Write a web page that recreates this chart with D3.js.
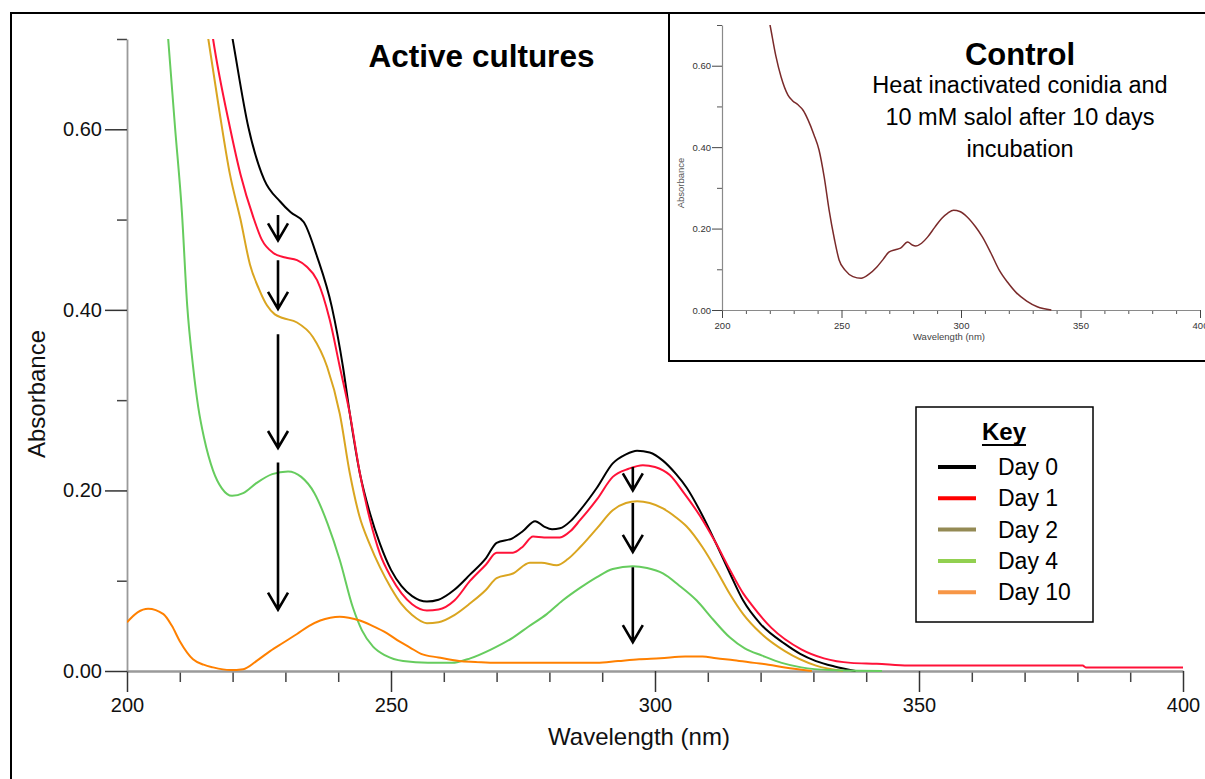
<!DOCTYPE html>
<html>
<head>
<meta charset="utf-8">
<script src="https://cdn.jsdelivr.net/npm/d3@7"></script>
<style>
  html, body { margin: 0; padding: 0; background: #fff; }
  svg { display: block; }
  text { font-family: "Liberation Sans", Arial, Helvetica, sans-serif; }
</style>
</head>
<body>
<svg id="chart" width="1205" height="779"></svg>
<script>
// ---------- DATA ----------
const seriesNames = ["Day 0", "Day 1", "Day 2", "Day 4", "Day 10"];
const curveColors = ["#000000", "#ff1238", "#daa520", "#66cc5e", "#ff8000"];
const legendColors = ["#000000", "#ff0000", "#948a54", "#92d050", "#f79646"];

const day0Wl  = [217, 220, 223, 226, 229, 231, 233.5, 236, 238.8, 240.9, 242.2, 244.1, 246, 247.9, 250, 252, 254, 256.8, 259, 262, 265, 268, 270, 273, 275, 277.3, 279, 280.5, 282, 284, 285.8, 289, 292, 294.5, 296.6, 299, 301.5, 304, 306, 309, 311.5, 314.2, 316.7, 320, 324.6, 327.5, 330.5, 334, 338];
const day0Abs = [0.80, 0.70, 0.602, 0.544, 0.520, 0.508, 0.497, 0.459, 0.403, 0.337, 0.285, 0.219, 0.175, 0.141, 0.112, 0.094, 0.083, 0.077, 0.079, 0.090, 0.107, 0.125, 0.142, 0.147, 0.155, 0.166, 0.160, 0.157, 0.158, 0.166, 0.178, 0.203, 0.230, 0.240, 0.244, 0.242, 0.233, 0.218, 0.203, 0.172, 0.142, 0.108, 0.078, 0.052, 0.030, 0.019, 0.011, 0.005, 0.0];

const day1Wl  = [214, 216.3, 219.5, 221.5, 223.9, 225.5, 227.7, 230, 232.2, 234, 236, 238.4, 240.3, 242.2, 244.1, 246, 247.9, 250, 252, 254, 256.8, 259, 262, 265, 268, 270, 273.1, 275, 276.9, 279, 282, 284, 285.8, 289, 292, 295, 297.7, 300, 302.8, 305.5, 308.5, 311.5, 314.2, 316.7, 318.2, 322, 327.7, 332, 337.1, 342, 348, 381, 381.6, 400];
const day1Abs = [0.80, 0.70, 0.602, 0.550, 0.503, 0.478, 0.463, 0.458, 0.455, 0.448, 0.433, 0.389, 0.337, 0.285, 0.219, 0.168, 0.130, 0.104, 0.086, 0.074, 0.067, 0.068, 0.078, 0.100, 0.118, 0.131, 0.131, 0.138, 0.149, 0.148, 0.148, 0.155, 0.167, 0.190, 0.215, 0.224, 0.228, 0.226, 0.217, 0.197, 0.172, 0.142, 0.112, 0.086, 0.074, 0.048, 0.024, 0.014, 0.009, 0.008, 0.006, 0.006, 0.004, 0.004];

const day2Wl  = [213, 215.4, 217.5, 219.5, 221.5, 223.3, 225, 226.5, 228, 229.5, 232.2, 235.2, 237.9, 240.3, 242.2, 244, 246, 247.9, 250, 252, 254, 256.8, 259, 262, 265, 268, 270, 273.1, 276.3, 278.5, 281.4, 283.5, 285.8, 289, 292, 294.5, 296.6, 299, 301.5, 304, 306, 309, 311.5, 314.2, 316.7, 320, 324.6, 330.5, 335.6];
const day2Abs = [0.80, 0.70, 0.62, 0.55, 0.50, 0.450, 0.423, 0.405, 0.395, 0.391, 0.386, 0.370, 0.337, 0.285, 0.219, 0.172, 0.140, 0.115, 0.092, 0.074, 0.062, 0.053, 0.054, 0.062, 0.075, 0.090, 0.103, 0.108, 0.120, 0.120, 0.117, 0.124, 0.137, 0.158, 0.178, 0.186, 0.188, 0.186, 0.180, 0.170, 0.160, 0.137, 0.113, 0.085, 0.063, 0.042, 0.022, 0.006, 0.0];

const day4Wl  = [206.5, 207.8, 209.1, 210.4, 211.4, 212.5, 213.5, 214.6, 216.3, 218, 219.9, 222, 224.5, 227.5, 230.5, 233, 235.5, 238, 240.3, 242.8, 244.5, 246.6, 249, 252.3, 257, 261.5, 265, 269, 273.1, 276, 279.5, 282.5, 285.8, 289, 292, 295.8, 298.5, 301.5, 304.5, 307.9, 311, 314.2, 317, 320.3, 324, 327.7, 333, 343];
const day4Abs = [0.80, 0.70, 0.602, 0.508, 0.405, 0.338, 0.292, 0.258, 0.222, 0.202, 0.194, 0.197, 0.208, 0.218, 0.221, 0.215, 0.197, 0.163, 0.123, 0.070, 0.045, 0.027, 0.017, 0.011, 0.009, 0.009, 0.014, 0.024, 0.037, 0.049, 0.063, 0.078, 0.092, 0.104, 0.113, 0.116, 0.114, 0.108, 0.095, 0.078, 0.057, 0.037, 0.025, 0.017, 0.009, 0.004, 0.001, 0.0];

const day10Wl  = [200, 202, 204, 206.9, 208.5, 210, 212.5, 214.5, 216.3, 219.5, 222, 224.5, 227.1, 229.5, 232.2, 234.5, 236.6, 238.5, 240.3, 242, 244.1, 246.5, 249.2, 251.5, 253.6, 255.7, 259, 262.9, 266, 270, 280, 289, 293, 297, 301, 305.7, 309, 311.6, 315, 318.8, 321.5, 324.6, 329.7];
const day10Abs = [0.054, 0.065, 0.069, 0.063, 0.050, 0.033, 0.013, 0.007, 0.004, 0.001, 0.002, 0.011, 0.022, 0.031, 0.041, 0.050, 0.056, 0.059, 0.060, 0.059, 0.056, 0.050, 0.042, 0.033, 0.026, 0.019, 0.015, 0.011, 0.010, 0.009, 0.009, 0.009, 0.011, 0.013, 0.014, 0.016, 0.016, 0.014, 0.012, 0.009, 0.007, 0.004, 0.0];

const controlWl  = [218, 220.1, 222.5, 224.7, 227.6, 229.5, 231.8, 234, 236, 238.5, 240.6, 242.8, 244.8, 247, 249, 251.5, 254.8, 258.2, 261.5, 264.7, 267.5, 269.8, 272.5, 274.7, 277.7, 279.5, 281, 283.5, 286, 289, 291.9, 294.5, 296.9, 299.5, 302.7, 306, 309, 312.5, 316, 319.5, 323.2, 327.5, 331.9, 337.8];
const controlAbs = [0.76, 0.70, 0.625, 0.573, 0.528, 0.514, 0.504, 0.490, 0.467, 0.430, 0.393, 0.325, 0.246, 0.175, 0.123, 0.098, 0.082, 0.078, 0.088, 0.105, 0.125, 0.142, 0.148, 0.152, 0.167, 0.160, 0.157, 0.164, 0.179, 0.203, 0.225, 0.238, 0.245, 0.242, 0.228, 0.205, 0.179, 0.140, 0.098, 0.068, 0.042, 0.022, 0.008, 0.0];

const xMajorTicks = [200, 250, 300, 350, 400];
const xMinorTicks = [210, 220, 230, 240, 260, 270, 280, 290, 310, 320, 330, 340, 360, 370, 380, 390];
const yMajorTicks = [0.0, 0.2, 0.4, 0.6];
const yMinorTicks = [0.1, 0.3, 0.5, 0.7];

// arrows: [wavelength, from absorbance, to absorbance]
const arrowWl   = [228.6, 228.6, 228.6, 228.6, 295.8, 295.8, 295.8];
const arrowFrom = [0.505, 0.455, 0.373, 0.231, 0.226, 0.186, 0.115];
const arrowTo   = [0.477, 0.401, 0.247, 0.068, 0.200, 0.132, 0.032];

const mainTitle = "Active cultures";
const xTitle = "Wavelength (nm)";
const yTitle = "Absorbance";
const insetTitle = "Control";
const insetSubtitle = ["Heat inactivated conidia and", "10 mM salol after 10 days", "incubation"];
const legendTitle = "Key";

// ---------- DRAW ----------
const svg = d3.select("#chart");
const FONT = '"Liberation Sans", Arial, Helvetica, sans-serif';

const series = [
  {wl: day0Wl, abs: day0Abs},
  {wl: day1Wl, abs: day1Abs},
  {wl: day2Wl, abs: day2Abs},
  {wl: day4Wl, abs: day4Abs},
  {wl: day10Wl, abs: day10Abs}
];

// outer frame of the main panel
svg.append("line").attr("x1", 10).attr("x2", 670).attr("y1", 13).attr("y2", 13)
  .attr("stroke", "#000").attr("stroke-width", 2);
svg.append("line").attr("x1", 11).attr("x2", 11).attr("y1", 12).attr("y2", 779)
  .attr("stroke", "#000").attr("stroke-width", 2);

const x = d3.scaleLinear().domain([200, 400]).range([127, 1183]);
const y = d3.scaleLinear().domain([0, 0.7]).range([671, 39]);

function styleAxis(g, tickColor, lineColor, lineWidth, fontSize, textColor) {
  g.select(".domain").attr("stroke", lineColor).attr("stroke-width", lineWidth);
  g.selectAll(".tick line").attr("stroke", tickColor).attr("stroke-width", 1.5);
  g.selectAll(".tick text").attr("fill", textColor).style("font-size", fontSize + "px").style("font-family", FONT);
}

// main axes
const gxMinor = svg.append("g").attr("transform", `translate(0,${y(0)})`)
  .call(d3.axisBottom(x).tickValues(xMinorTicks).tickSize(11).tickFormat(""));
gxMinor.select(".domain").remove();
gxMinor.selectAll(".tick line").attr("stroke", "#444").attr("stroke-width", 1.5);
const gyMinor = svg.append("g").attr("transform", `translate(${x(200)},0)`)
  .call(d3.axisLeft(y).tickValues(yMinorTicks).tickSize(10).tickFormat(""));
gyMinor.select(".domain").remove();
gyMinor.selectAll(".tick line").attr("stroke", "#444").attr("stroke-width", 1.5);

const gx = svg.append("g").attr("transform", `translate(0,${y(0)})`)
  .call(d3.axisBottom(x).tickValues(xMajorTicks).tickSize(21).tickPadding(6).tickSizeOuter(0).tickFormat(d3.format("d")));
styleAxis(gx, "#333", "#9a9a9a", 2.5, 20, "#111");
const gy = svg.append("g").attr("transform", `translate(${x(200)},0)`)
  .call(d3.axisLeft(y).tickValues(yMajorTicks).tickSize(22).tickPadding(3).tickSizeOuter(0).tickFormat(d3.format(".2f")));
styleAxis(gy, "#333", "#9a9a9a", 1.8, 20, "#111");

// curves
svg.append("clipPath").attr("id", "plotClip").append("rect")
  .attr("x", x(200)).attr("y", y(0.7)).attr("width", x(400) - x(200) + 2).attr("height", y(0) - y(0.7) + 2);
const line = d3.line().x(d => x(d[0])).y(d => y(d[1])).curve(d3.curveMonotoneX);
const plot = svg.append("g").attr("clip-path", "url(#plotClip)");
series.forEach((s, i) => {
  const pts = s.wl.map((w, k) => [w, s.abs[k]]);
  plot.append("path").datum(pts).attr("d", line)
    .attr("fill", "none").attr("stroke", curveColors[i]).attr("stroke-width", 2)
    .attr("stroke-linejoin", "round");
});

// arrows
arrowWl.forEach((w, i) => {
  const ax = x(w), y1 = y(arrowFrom[i]), y2 = y(arrowTo[i]);
  svg.append("path")
    .attr("d", `M${ax},${y1}L${ax},${y2}M${ax - 10},${y2 - 17}L${ax},${y2}L${ax + 10},${y2 - 17}`)
    .attr("fill", "none").attr("stroke", "#000").attr("stroke-width", 2.6)
    .attr("stroke-linejoin", "miter");
});

// titles
svg.append("text").attr("x", 481.5).attr("y", 67).attr("text-anchor", "middle")
  .style("font-size", "31.5px").style("font-weight", "bold").attr("fill", "#000").text(mainTitle);
svg.append("text").attr("x", 639).attr("y", 745).attr("text-anchor", "middle")
  .style("font-size", "24px").attr("fill", "#111").text(xTitle);
svg.append("text").attr("transform", "translate(45,394) rotate(-90)").attr("text-anchor", "middle")
  .style("font-size", "24px").attr("fill", "#111").text(yTitle);

// legend
const lg = svg.append("g");
lg.append("rect").attr("x", 916).attr("y", 407).attr("width", 177).attr("height", 215)
  .attr("fill", "#fff").attr("stroke", "#000").attr("stroke-width", 1.5);
const keyText = lg.append("text").attr("x", 1004).attr("y", 440).attr("text-anchor", "middle")
  .style("font-size", "24px").style("font-weight", "bold").attr("fill", "#000").text(legendTitle);
const kw = keyText.node().getComputedTextLength();
lg.append("line").attr("x1", 1004 - kw / 2).attr("x2", 1004 + kw / 2).attr("y1", 445).attr("y2", 445)
  .attr("stroke", "#000").attr("stroke-width", 2);
seriesNames.forEach((name, i) => {
  const by = 475 + i * 31.3;
  lg.append("line").attr("x1", 938).attr("x2", 976).attr("y1", by - 8).attr("y2", by - 8)
    .attr("stroke", legendColors[i]).attr("stroke-width", 4);
  lg.append("text").attr("x", 998).attr("y", by).style("font-size", "23px").attr("fill", "#000").text(name);
});

// ---------- INSET ----------
const ins = svg.append("g");
ins.append("rect").attr("x", 669).attr("y", 13).attr("width", 560).attr("height", 348)
  .attr("fill", "#fff").attr("stroke", "#000").attr("stroke-width", 2);

const xi = d3.scaleLinear().domain([200, 400]).range([722, 1200]);
const yi = d3.scaleLinear().domain([0, 0.7]).range([310, 25]);

const gxiMinor = ins.append("g").attr("transform", `translate(0,${yi(0)})`)
  .call(d3.axisBottom(xi).tickValues(xMinorTicks).tickSize(4).tickFormat(""));
gxiMinor.select(".domain").remove();
gxiMinor.selectAll(".tick line").attr("stroke", "#555").attr("stroke-width", 1);
const gyiMinor = ins.append("g").attr("transform", `translate(${xi(200)},0)`)
  .call(d3.axisLeft(yi).tickValues(yMinorTicks).tickSize(5).tickFormat(""));
gyiMinor.select(".domain").remove();
gyiMinor.selectAll(".tick line").attr("stroke", "#555").attr("stroke-width", 1);

const gxi = ins.append("g").attr("transform", `translate(0,${yi(0)})`)
  .call(d3.axisBottom(xi).tickValues(xMajorTicks).tickSize(8).tickPadding(4).tickSizeOuter(0).tickFormat(d3.format("d")));
styleAxis(gxi, "#444", "#8a8a8a", 1.2, 9.5, "#333");
gxi.selectAll(".tick line").attr("stroke-width", 1);
const gyi = ins.append("g").attr("transform", `translate(${xi(200)},0)`)
  .call(d3.axisLeft(yi).tickValues(yMajorTicks).tickSize(10).tickPadding(1).tickSizeOuter(0).tickFormat(d3.format(".2f")));
styleAxis(gyi, "#444", "#8a8a8a", 1.2, 9.5, "#333");
gyi.selectAll(".tick line").attr("stroke-width", 1);

ins.append("clipPath").attr("id", "insetClip").append("rect")
  .attr("x", xi(200)).attr("y", yi(0.7)).attr("width", xi(400) - xi(200)).attr("height", yi(0) - yi(0.7) + 1);
const lineI = d3.line().x(d => xi(d[0])).y(d => yi(d[1])).curve(d3.curveMonotoneX);
ins.append("g").attr("clip-path", "url(#insetClip)").append("path")
  .datum(controlWl.map((w, k) => [w, controlAbs[k]])).attr("d", lineI)
  .attr("fill", "none").attr("stroke", "#7a2a2a").attr("stroke-width", 1.5);

ins.append("text").attr("x", 949).attr("y", 340).attr("text-anchor", "middle")
  .style("font-size", "9.5px").attr("fill", "#444").text(xTitle);
ins.append("text").attr("transform", "translate(684,183) rotate(-90)").attr("text-anchor", "middle")
  .style("font-size", "9.5px").attr("fill", "#555").text(yTitle);

ins.append("text").attr("x", 1020).attr("y", 65).attr("text-anchor", "middle")
  .style("font-size", "31px").style("font-weight", "bold").attr("fill", "#000").text(insetTitle);
insetSubtitle.forEach((t, i) => {
  ins.append("text").attr("x", 1020).attr("y", 93 + i * 32).attr("text-anchor", "middle")
    .style("font-size", "23.5px").attr("fill", "#000").text(t);
});
</script>
</body>
</html>
